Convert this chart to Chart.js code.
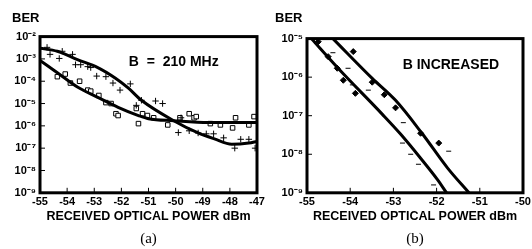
<!DOCTYPE html>
<html>
<head>
<meta charset="utf-8">
<script src="https://cdn.jsdelivr.net/npm/chart.js@4/dist/chart.umd.min.js"></script>
<style>
  body { margin: 0; background: #fff; }
  .panel { position: absolute; top: 0; width: 266px; height: 249px; }
</style>
</head>
<body>
<div class="panel" style="left:0"><canvas id="chartA" width="266" height="249"></canvas></div>
<div class="panel" style="left:266px"><canvas id="chartB" width="266" height="249"></canvas></div>
<script>
// ---- panel (a): B = 210 MHz ----
const aPlusFitX = [-55, -54.36, -53.62, -52.87, -52.23, -51.75, -51.26, -50.07, -49.17, -48.57, -47.93, -47.3, -47];
const aPlusFitBer = [3.0e-3, 2.2e-3, 9.3e-4, 4.1e-4, 1.4e-4, 5.0e-5, 1.4e-5, 1.7e-6, 4.8e-7, 2.6e-7, 1.5e-7, 1.7e-7, 2.0e-7];
const aSquareFitX = [-55, -54.36, -53.62, -52.87, -52.12, -51.37, -51.0, -50.07, -48.79, -47];
const aSquareFitBer = [8.5e-4, 2.4e-4, 5.5e-5, 1.9e-5, 6.8e-6, 2.9e-6, 2.1e-6, 1.7e-6, 1.4e-6, 1.4e-6];
const aPlusX = [-54.74, -54.63, -54.29, -54.18, -53.8, -53.69, -53.5, -53.24, -53.13, -52.91, -52.57, -52.31, -52.05, -51.67, -51.45, -51.26, -50.74, -50.48, -49.9, -49.8, -49.5, -49.17, -48.87, -48.6, -48.23, -47.82, -47.6, -47.3, -47.07];
const aPlusBer = [3.3e-3, 1.6e-3, 1.05e-3, 2.2e-3, 1.6e-3, 5.5e-4, 5.5e-4, 4.5e-4, 4.1e-4, 1.7e-4, 1.6e-4, 8.3e-5, 4.0e-5, 7.6e-5, 8.3e-6, 1.4e-5, 1.3e-5, 1.0e-5, 5.0e-7, 2.3e-6, 6.0e-7, 4.8e-7, 4.4e-7, 4.4e-7, 2.9e-7, 1.0e-7, 2.5e-7, 2.5e-7, 1.0e-7];
const aSquareX = [-54.36, -54.07, -53.88, -53.54, -53.24, -53.13, -52.83, -52.57, -52.38, -52.2, -52.12, -51.45, -51.37, -51.22, -51.04, -50.81, -50.29, -49.84, -49.5, -49.32, -49.24, -48.72, -48.35, -47.9, -47.79, -47.3, -47.11];
const aSquareBer = [1.6e-4, 2.1e-4, 8.3e-5, 1.0e-4, 4.0e-5, 3.6e-5, 2.3e-5, 1.1e-5, 1.0e-5, 3.5e-6, 2.9e-6, 6.0e-6, 1.26e-6, 3.5e-6, 2.9e-6, 2.3e-6, 1.1e-6, 2.3e-6, 3.5e-6, 2.3e-6, 2.6e-6, 1.26e-6, 1.1e-6, 8.1e-7, 2.3e-6, 1.1e-6, 2.6e-6];
const aXTicks = [-55, -54, -53, -52, -51, -50, -49, -48, -47];
const aYTicks = [1e-9, 1e-8, 1e-7, 1e-6, 1e-5, 1e-4, 1e-3, 1e-2];
const aYLabels = ['10⁻⁹', '10⁻⁸', '10⁻⁷', '10⁻⁶', '10⁻⁵', '10⁻⁴', '10⁻³', '10⁻²'];

// ---- panel (b): B increased ----
const bLeftFitX = [-54.9, -54.28, -53.26, -52.84, -52.37, -51.98, -51.77];
const bLeftFitBer = [1e-5, 1.7e-6, 1.1e-7, 3.4e-8, 7.9e-9, 2.2e-9, 1e-9];
const bRightFitX = [-54.4, -53.49, -52.95, -52.33, -51.74, -51.25];
const bRightFitBer = [1e-5, 9.3e-7, 2.5e-7, 3.4e-8, 4.3e-9, 1e-9];
const bDiamondX = [-54.74, -54.51, -54.3, -54.16, -53.88, -53.93, -53.49, -53.21, -52.95, -52.37, -51.95];
const bDiamondBer = [8.3e-6, 3.4e-6, 1.7e-6, 8.3e-7, 3.8e-7, 4.6e-6, 7.4e-7, 3.5e-7, 1.6e-7, 3.5e-8, 1.95e-8];
const bDashX = [-54.4, -54.05, -53.95, -53.58, -52.77, -52.79, -52.6, -52.42, -52.07, -51.72];
const bDashBer = [4.3e-6, 1.7e-6, 6.3e-7, 4.6e-7, 6.6e-8, 1.95e-8, 1.0e-8, 5.5e-9, 1.6e-9, 1.2e-8];
const bXTicks = [-55, -54, -53, -52, -51, -50];
const bYTicks = [1e-9, 1e-8, 1e-7, 1e-6, 1e-5];
const bYLabels = ['10⁻⁹', '10⁻⁸', '10⁻⁷', '10⁻⁶', '10⁻⁵'];

const SANS = "'Liberation Sans', Arial, sans-serif";

function pts(xs, ys) {
  return xs.map((x, i) => ({ x: x, y: ys[i] }));
}

function fitLine(xs, ys) {
  return {
    data: pts(xs, ys), showLine: true, borderColor: '#000', borderWidth: 3,
    pointRadius: 0, cubicInterpolationMode: 'monotone', fill: false
  };
}

function marks(xs, ys, style, radius, filled) {
  return {
    data: pts(xs, ys), showLine: false, pointStyle: style, pointRadius: radius,
    borderColor: '#000', borderWidth: 1, backgroundColor: filled ? '#000' : '#fff'
  };
}

// thick box round the plot plus small inward tick marks
const framePlugin = {
  id: 'frame',
  afterDatasetsDraw(chart) {
    const { ctx, chartArea: a, scales: { x, y } } = chart;
    ctx.save();
    ctx.strokeStyle = '#000';
    ctx.lineWidth = 1;
    ctx.beginPath();
    x.ticks.forEach(t => {
      const px = x.getPixelForValue(t.value);
      ctx.moveTo(px, a.bottom);
      ctx.lineTo(px, a.bottom - 5);
    });
    y.ticks.forEach(t => {
      const py = y.getPixelForValue(t.value);
      ctx.moveTo(a.left, py);
      ctx.lineTo(a.left + 5, py);
    });
    ctx.stroke();
    ctx.lineWidth = 3;
    ctx.strokeRect(a.left, a.top, a.right - a.left, a.bottom - a.top);
    ctx.restore();
  }
};

const notePlugin = {
  id: 'note',
  afterDatasetsDraw(chart, args, opts) {
    const { ctx, scales: { x, y } } = chart;
    ctx.save();
    ctx.font = 'bold 14px ' + SANS;
    ctx.fillStyle = '#000';
    ctx.textAlign = 'center';
    ctx.textBaseline = 'middle';
    ctx.fillText(opts.text, x.getPixelForValue(opts.x), y.getPixelForValue(opts.y));
    ctx.restore();
  }
};

function makeOptions(cfg) {
  return {
    responsive: false,
    animation: false,
    layout: { padding: { left: cfg.padLeft, right: cfg.padRight, top: 0, bottom: 0 } },
    plugins: {
      legend: { display: false },
      tooltip: { enabled: false },
      title: {
        display: true, text: 'BER', align: 'start', color: '#000',
        font: { family: SANS, weight: 'bold', size: 13 },
        padding: { top: 11, bottom: cfg.titleGap }
      },
      subtitle: {
        display: true, text: cfg.label, position: 'bottom', fullSize: false, color: '#000',
        font: { family: "'Liberation Serif', 'Times New Roman', serif", size: 15 },
        padding: { top: 6, bottom: 1 }
      },
      note: cfg.note
    },
    scales: {
      x: {
        type: 'linear', min: cfg.xTicks[0], max: cfg.xTicks[cfg.xTicks.length - 1],
        afterBuildTicks: s => { s.ticks = cfg.xTicks.map(v => ({ value: v })); },
        afterFit: s => { s.paddingLeft = 0; s.paddingRight = 0; },
        grid: { display: false, drawTicks: false },
        border: { display: false },
        ticks: {
          color: '#000', padding: 3, autoSkip: false, maxRotation: 0,
          font: { family: SANS, weight: 'bold', size: 11 },
          callback: v => String(v)
        },
        title: {
          display: true, text: 'RECEIVED OPTICAL POWER dBm', color: '#000',
          font: { family: SANS, weight: 'bold', size: 12.5 },
          padding: { top: -3, bottom: 0 }
        }
      },
      y: {
        type: 'logarithmic', min: cfg.yTicks[0], max: cfg.yTicks[cfg.yTicks.length - 1],
        afterBuildTicks: s => { s.ticks = cfg.yTicks.map(v => ({ value: v })); },
        afterFit: s => { s.width = cfg.yWidth; },
        grid: { display: false, drawTicks: false },
        border: { display: false },
        ticks: {
          color: '#000', padding: 4, autoSkip: false,
          font: { family: SANS, weight: 'bold', size: 11 },
          callback: (v, i) => cfg.yLabels[i]
        }
      }
    }
  };
}

new Chart(document.getElementById('chartA'), {
  type: 'scatter',
  data: {
    datasets: [
      fitLine(aPlusFitX, aPlusFitBer),
      fitLine(aSquareFitX, aSquareFitBer),
      marks(aPlusX, aPlusBer, 'cross', 3.2, false),
      marks(aSquareX, aSquareBer, 'rect', 3.2, false)
    ]
  },
  options: makeOptions({
    padLeft: 12, padRight: 9, yWidth: 28, titleGap: 10, label: '(a)',
    xTicks: aXTicks, yTicks: aYTicks, yLabels: aYLabels,
    note: { text: 'B  =  210 MHz', x: -50.07, y: 6.9e-4 }
  }),
  plugins: [framePlugin, notePlugin]
});

new Chart(document.getElementById('chartB'), {
  type: 'scatter',
  data: {
    datasets: [
      fitLine(bLeftFitX, bLeftFitBer),
      fitLine(bRightFitX, bRightFitBer),
      marks(bDiamondX, bDiamondBer, 'rectRot', 3, true),
      marks(bDashX, bDashBer, 'line', 2.5, false)
    ]
  },
  options: makeOptions({
    padLeft: 9, padRight: 9, yWidth: 32, titleGap: 12, label: '(b)',
    xTicks: bXTicks, yTicks: bYTicks, yLabels: bYLabels,
    note: { text: 'B INCREASED', x: -51.67, y: 2.1e-6 }
  }),
  plugins: [framePlugin, notePlugin]
});
</script>
</body>
</html>
